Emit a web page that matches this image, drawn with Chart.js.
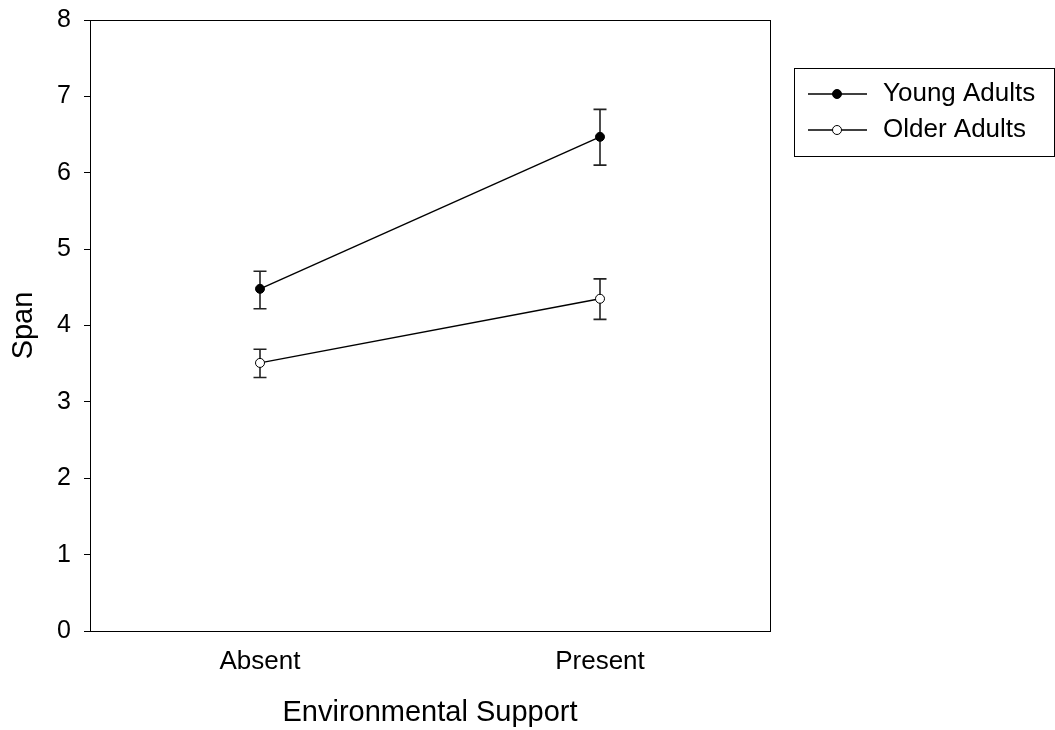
<!DOCTYPE html>
<html>
<head>
<meta charset="utf-8">
<script src="https://cdn.jsdelivr.net/npm/chart.js@4/dist/chart.umd.min.js"></script>
<style>
  html, body { margin: 0; padding: 0; background: #fff; }
  #wrap { width: 1055px; height: 730px; }
</style>
</head>
<body>
<div id="wrap"><canvas id="c" width="1055" height="730"></canvas></div>
<script>
// data
const categories = ['Absent', 'Present'];
const youngMeans = [4.48, 6.47];
const youngLow = [4.22, 6.10];
const youngHigh = [4.71, 6.83];
const olderMeans = [3.51, 4.35];
const olderLow = [3.32, 4.08];
const olderHigh = [3.69, 4.61];
const yTicks = [0, 1, 2, 3, 4, 5, 6, 7, 8];

const FONT = "'Liberation Sans', Arial, sans-serif";

// error bars, drawn behind lines and markers
const errorBars = {
  id: 'errorBars',
  beforeDatasetsDraw(chart) {
    const ctx = chart.ctx;
    const x = chart.scales.x, y = chart.scales.y;
    ctx.save();
    ctx.strokeStyle = '#222';
    ctx.lineWidth = 1.6;
    chart.data.datasets.forEach(ds => {
      ds.data.forEach((v, i) => {
        const px = x.getPixelForValue(i);
        const top = y.getPixelForValue(ds.errHigh[i]);
        const bot = y.getPixelForValue(ds.errLow[i]);
        ctx.beginPath();
        ctx.moveTo(px, top); ctx.lineTo(px, bot);
        ctx.moveTo(px - 6.5, top); ctx.lineTo(px + 6.5, top);
        ctx.moveTo(px - 6.5, bot); ctx.lineTo(px + 6.5, bot);
        ctx.stroke();
      });
    });
    ctx.restore();
  }
};

// box around plot area + legend box on the right
const frameAndLegend = {
  id: 'frameAndLegend',
  afterDraw(chart) {
    const ctx = chart.ctx;
    const a = chart.chartArea;
    ctx.save();
    ctx.strokeStyle = '#000';
    ctx.lineWidth = 1;
    ctx.strokeRect(a.left + 0.5, a.top + 0.5, a.right - a.left, a.bottom - a.top);

    const bx = a.right + 24, by = 68, bw = 260, bh = 88;
    ctx.strokeRect(bx + 0.5, by + 0.5, bw, bh);
    ctx.font = '26px ' + FONT;
    ctx.textBaseline = 'middle';
    ctx.textAlign = 'left';
    chart.data.datasets.forEach((ds, i) => {
      const ly = by + 26 + i * 36;
      ctx.strokeStyle = '#000';
      ctx.lineWidth = 1.4;
      ctx.beginPath();
      ctx.moveTo(bx + 14, ly); ctx.lineTo(bx + 73, ly);
      ctx.stroke();
      ctx.beginPath();
      ctx.arc(bx + 43, ly, 4.5, 0, Math.PI * 2);
      ctx.fillStyle = ds.pointBackgroundColor;
      ctx.fill();
      ctx.lineWidth = 1;
      ctx.stroke();
      ctx.fillStyle = '#000';
      ctx.fillText(ds.label, bx + 89, ly);
    });
    ctx.restore();
  }
};

new Chart(document.getElementById('c'), {
  type: 'line',
  data: {
    labels: categories,
    datasets: [
      {
        label: 'Young Adults',
        data: youngMeans,
        errLow: youngLow,
        errHigh: youngHigh,
        borderColor: '#000',
        borderWidth: 1.4,
        pointRadius: 4.5,
        pointBorderWidth: 1,
        pointBackgroundColor: '#000',
        pointBorderColor: '#000'
      },
      {
        label: 'Older Adults',
        data: olderMeans,
        errLow: olderLow,
        errHigh: olderHigh,
        borderColor: '#000',
        borderWidth: 1.4,
        pointRadius: 4.5,
        pointBorderWidth: 1,
        pointBackgroundColor: '#fff',
        pointBorderColor: '#000'
      }
    ]
  },
  options: {
    responsive: false,
    animation: false,
    layout: { padding: { top: 20, right: 285, left: 0, bottom: 0 } },
    plugins: { legend: { display: false }, tooltip: { enabled: false } },
    scales: {
      x: {
        type: 'category',
        offset: true,
        grid: { display: false, drawTicks: false },
        border: { display: true, color: '#000', width: 1 },
        ticks: { color: '#000', padding: 15, font: { family: FONT, size: 26 } },
        title: {
          display: true, text: 'Environmental Support', color: '#000',
          font: { family: FONT, size: 29, lineHeight: 1.2 },
          padding: { top: 0, bottom: 0 }
        },
        afterFit(s) { s.height = 99; s.paddingLeft = 0; s.paddingRight = 0; }
      },
      y: {
        min: 0, max: 8,
        afterBuildTicks(s) { s.ticks = yTicks.map(v => ({ value: v })); },
        grid: { drawOnChartArea: false, drawTicks: true, tickLength: 6, color: '#000' },
        border: { display: true, color: '#000', width: 1 },
        ticks: { color: '#000', padding: 13, font: { family: FONT, size: 25 } },
        title: {
          display: true, text: 'Span', color: '#000',
          font: { family: FONT, size: 29, lineHeight: 1.2 },
          padding: { top: 7, bottom: 0 }
        },
        afterFit(s) { s.width = 90; s.paddingTop = 0; s.paddingBottom = 0; }
      }
    }
  },
  plugins: [errorBars, frameAndLegend]
});
</script>
</body>
</html>
